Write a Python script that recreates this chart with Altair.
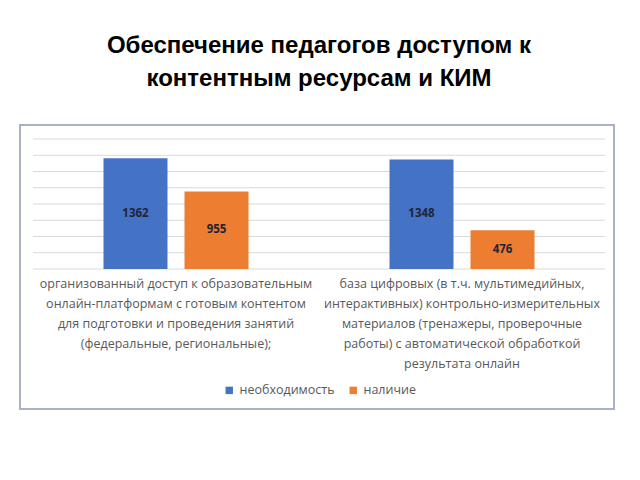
import altair as alt
import pandas as pd

categories = [
    "организованный доступ к образовательным\nонлайн-платформам с готовым контентом\nдля подготовки и проведения занятий\n(федеральные, региональные);",
    "база цифровых (в т.ч. мультимедийных,\nинтерактивных) контрольно-измерительных\nматериалов (тренажеры, проверочные\nработы) с автоматической обработкой\nрезультата онлайн",
]
cat_keys = ["c1", "c2"]
series = ["необходимость", "наличие"]
need_values = [1362, 1348]
have_values = [955, 476]
grid_values = [0, 200, 400, 600, 800, 1000, 1200, 1400, 1600]
colors = ["#4472C4", "#ED7D31"]

rows = []
for k, n, h in zip(cat_keys, need_values, have_values):
    rows.append({"cat": k, "series": series[0], "value": n})
    rows.append({"cat": k, "series": series[1], "value": h})
df = pd.DataFrame(rows)
labels_df = pd.DataFrame({"cat": cat_keys, "text": categories})
grid_df = pd.DataFrame({"g": grid_values})

FONT = "Open Sans"

xscale = alt.Scale(domain=cat_keys, paddingInner=0.493, paddingOuter=0.2465)
yscale = alt.Scale(domain=[0, 1600], nice=False)

base = alt.Chart(df)

grid = alt.Chart(grid_df).mark_rule(color="#d9d9d9", strokeWidth=1).encode(
    y=alt.Y("g:Q", scale=yscale, axis=None),
    x=alt.value(0),
    x2=alt.value(572),
)

bars = base.mark_bar().encode(
    x=alt.X("cat:N", scale=xscale, axis=None, sort=cat_keys),
    xOffset=alt.XOffset("series:N", sort=series,
                        scale=alt.Scale(domain=series, paddingInner=0.21, paddingOuter=0)),
    y=alt.Y("value:Q", scale=yscale, axis=None),
    color=alt.Color("series:N", sort=series,
                    scale=alt.Scale(domain=series, range=colors),
                    legend=alt.Legend(title=None, orient="none", legendX=190, legendY=245,
                                      direction="horizontal", symbolType="square",
                                      symbolSize=55, symbolStrokeWidth=0,
                                      labelFont=FONT, labelFontSize=12.5,
                                      labelColor="#595959", columnPadding=12,
                                      symbolOffset=0, labelOffset=4)),
)

bar_text = base.transform_calculate(mid="datum.value / 2").mark_text(
    font=FONT, fontSize=11.5, fontWeight="bold", color="#1f2636"
).encode(
    x=alt.X("cat:N", scale=xscale, sort=cat_keys, axis=None),
    xOffset=alt.XOffset("series:N", sort=series),
    y=alt.Y("mid:Q", scale=yscale, axis=None),
    text=alt.Text("value:Q"),
)

cat_text = alt.Chart(labels_df).mark_text(
    font=FONT, fontSize=12.5, color="#595959", lineBreak="\n",
    lineHeight=20, baseline="top", align="center"
).encode(
    x=alt.X("cat:N", scale=xscale, sort=cat_keys, axis=None),
    y=alt.value(139),
    text="text:N",
)

frame = alt.Chart(alt.Data(values=[{"a": 1}])).mark_rect(
    fill="transparent", stroke="#aab0c8", strokeWidth=2
).encode(
    x=alt.value(-13), x2=alt.value(581),
    y=alt.value(-14), y2=alt.value(270),
)

chart = alt.layer(frame, grid, bars, bar_text, cat_text).properties(
    width=572,
    height=130,
    background="white",
    autosize=alt.AutoSizeParams(type="none"),
    padding={"left": 33, "top": 139, "right": 35, "bottom": 211},
    title=alt.Title(
        ["Обеспечение педагогов доступом к", "контентным ресурсам и КИМ"],
        font="Liberation Sans", fontSize=24, fontWeight="bold", color="#000000",
        anchor="middle", lineHeight=33, offset=33, frame="group",
    ),
).configure_view(stroke="transparent", strokeWidth=0)

chart.save("out.html", embed_options={"renderer": "svg", "actions": False})
